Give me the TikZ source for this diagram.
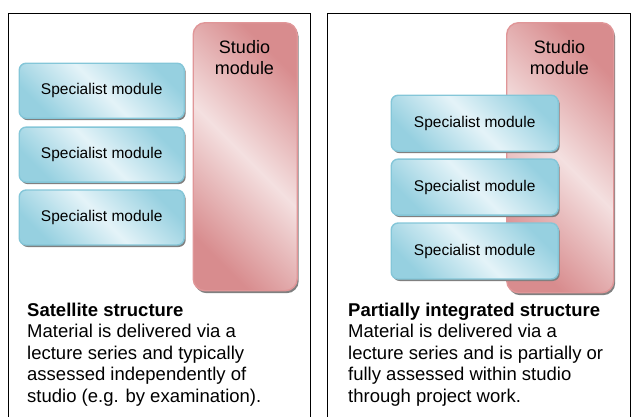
\documentclass[tikz,border=0pt]{standalone}
\usepackage{fontspec}
\setmainfont{Liberation Sans}
\usetikzlibrary{positioning,shadows}

\definecolor{specdark}{RGB}{150,208,224}
\definecolor{speclight}{RGB}{228,243,248}
\definecolor{specline}{RGB}{132,198,216}
\definecolor{studiodark}{RGB}{216,140,142}
\definecolor{studiolight}{RGB}{244,224,224}
\definecolor{studioline}{RGB}{224,150,152}

\tikzset{
    panel/.style={draw=black, line width=1.2pt},
    specialist/.style={
           rectangle,
           rounded corners=7pt,
           draw=specline, line width=1.4pt,
           left color=specdark, right color=specdark, middle color=speclight,
           shading angle=135,
           drop shadow={shadow xshift=1.5pt, shadow yshift=-2pt,
                        fill=black!50, opacity=1},
           minimum width=165pt,
           minimum height=55pt,
           inner sep=0pt,
           font=\fontsize{15.5}{18}\selectfont,
           text centered,
           },
    studio/.style={
           rectangle,
           rounded corners=12pt,
           draw=studioline, line width=1.4pt,
           left color=studiodark, right color=studiodark, middle color=studiolight,
           shading angle=135,
           drop shadow={shadow xshift=1.5pt, shadow yshift=-2.5pt,
                        fill=black!50, opacity=1},
           inner sep=0pt,
           },
    studiotext/.style={
           align=center,
           inner sep=0pt,
           font=\fontsize{18}{21}\selectfont,
           },
    desc/.style={
           align=left,
           inner sep=0pt,
           font=\fontsize{18.5}{21.5}\selectfont,
           },
}

\begin{document}
\begin{tikzpicture}[x=1pt,y=-1pt]

 \useasboundingbox (0,0) rectangle (638,416);

 % the two framed panels (bottom edge runs off the page)
 \node[panel, minimum width=302pt, minimum height=408pt, anchor=north west,
  inner sep=0pt] (Satellite Panel) at (7.5,12.5) {};
 \node[panel, minimum width=303pt, minimum height=408pt, anchor=north west,
  inner sep=0pt] (Integrated Panel) at (327,12.5) {};

 % left panel: studio module with three modules beside it
 \node[studio,
  minimum width=104pt,
  minimum height=268pt,
  anchor=north west] (Studio Left) at (192.5,22) {};
 \node[studiotext, anchor=north] (Studio Left Text) at (244.5,40.5)
  {Studio\\module};

 \node[specialist, anchor=north west] (Spec Left A) at (18.5,62.5)
  {Specialist module};
 \node[specialist, below=7.5pt of Spec Left A] (Spec Left B)
  {Specialist module};
 \node[specialist, below=6.5pt of Spec Left B] (Spec Left C)
  {Specialist module};

 \node[desc, anchor=north west] (Satellite Text) at (27,302.5)
  {\textbf{Satellite structure}\\
   Material is delivered via a\\
   lecture series and typically\\
   assessed independently of\\
   studio (e.g. by examination).};

 % right panel: modules overlapping the studio module
 \node[studio,
  minimum width=107pt,
  minimum height=270pt,
  anchor=north west] (Studio Right) at (506,22) {};
 \node[studiotext, anchor=north] (Studio Right Text) at (559.5,40.5)
  {Studio\\module};

 \node[specialist, minimum width=167pt, minimum height=56pt,
  anchor=north west] (Spec Right A) at (390.5,94.5)
  {Specialist module};
 \node[specialist, minimum width=167pt, minimum height=56pt,
  below=6.5pt of Spec Right A] (Spec Right B)
  {Specialist module};
 \node[specialist, minimum width=167pt, minimum height=56pt,
  below=6.5pt of Spec Right B] (Spec Right C)
  {Specialist module};

 \node[desc, anchor=north west] (Integrated Text) at (348,302.5)
  {\textbf{Partially integrated structure}\\
   Material is delivered via a\\
   lecture series and is partially or\\
   fully assessed within studio\\
   through project work.};

\end{tikzpicture}
\end{document}
